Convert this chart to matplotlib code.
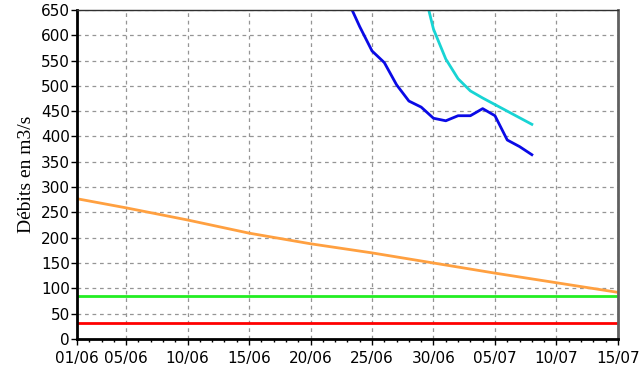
import numpy as np
import matplotlib
matplotlib.use("Agg")
import matplotlib.pyplot as plt
from matplotlib.ticker import MultipleLocator

# day index: 0 = 01/06, 44 = 15/07
tick_days = [0, 4, 9, 14, 19, 24, 29, 34, 39, 44]
tick_labels = ["01/06", "05/06", "10/06", "15/06", "20/06", "25/06",
               "30/06", "05/07", "10/07", "15/07"]

# observed flow (dark blue)
obs_days = [22, 23, 24, 25, 26, 27, 28, 29, 30, 31, 32, 33, 34, 35, 36, 37]
obs_vals = [670, 617, 569, 546, 502, 470, 458, 436, 431, 441, 441, 455, 441, 393, 380, 364]

# forecast (cyan)
fc_days = [28, 29, 30, 31, 32, 33, 34, 35, 36, 37]
fc_vals = [710, 612, 553, 514, 490, 476, 463, 450, 437, 424]

# orange curve
or_days = [0, 4, 9, 14, 19, 24, 29, 34, 39, 44]
or_vals = [277, 259, 235, 209, 188, 170, 150, 130, 111, 92]

green_val = 85
red_val = 31

fig = plt.figure(figsize=(6.41, 3.68), dpi=100)
ax = fig.add_axes([0.120, 0.079, 0.844, 0.894])

ax.plot(or_days, or_vals, color="#ffa040", lw=2)
ax.plot([0, 44], [green_val, green_val], color="#22ee22", lw=2)
ax.plot([0, 44], [red_val, red_val], color="#ff0000", lw=2)
ax.plot(fc_days, fc_vals, color="#18d4d4", lw=2)
ax.plot(obs_days, obs_vals, color="#0a0ae6", lw=2)

ax.set_xlim(0, 44)
ax.set_ylim(0, 650)
ax.set_xticks(tick_days)
ax.set_xticklabels(tick_labels)
ax.xaxis.set_minor_locator(MultipleLocator(1))
ax.yaxis.set_major_locator(MultipleLocator(50))

ax.grid(True, color="#959595", linestyle=(0, (3, 3)), lw=0.9)
ax.tick_params(axis="both", which="major", direction="out", length=4,
               width=1, labelsize=11, pad=1)
ax.tick_params(axis="x", which="major", pad=5)
ax.tick_params(axis="x", which="minor", direction="out", length=2, width=1)

for s in ["left", "bottom"]:
    ax.spines[s].set_linewidth(2)
    ax.spines[s].set_color("black")
ax.spines["top"].set_linewidth(1)
ax.spines["top"].set_color("#303030")
ax.spines["right"].set_linewidth(2)
ax.spines["right"].set_color("#606060")
ax.spines["right"].set_linestyle((0, (2, 1)))

ax.set_ylabel("Débits en m3/s", family="Liberation Serif", fontsize=14, labelpad=4)

fig.savefig("out.png", dpi=100)
